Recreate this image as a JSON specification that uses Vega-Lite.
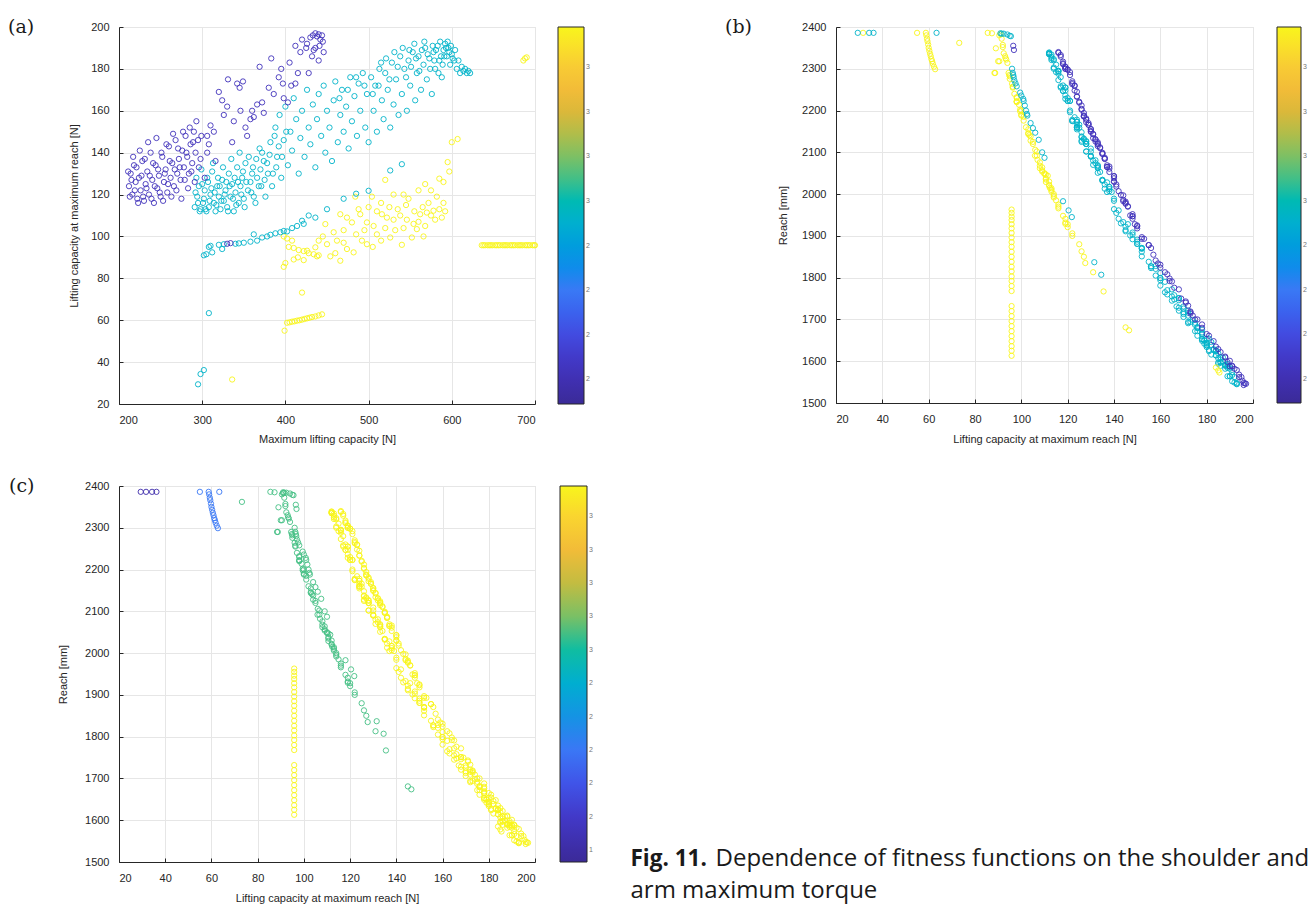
{
 "$schema": "https://vega.github.io/schema/vega-lite/v6.json",
 "background": "white",
 "padding": {"left": 7, "top": 17, "right": 0, "bottom": 0},
 "datasets": {
  "groups": [
   {"g":"C","f1":2.93,"f2":3.98},{"g":"P","f1":2.24,"f2":3.98},{"g":"Pg","f1":2.24,"f2":3.08},
   {"g":"Cg","f1":2.93,"f2":3.08},{"g":"Cb","f1":2.93,"f2":2.405},{"g":"Cp","f1":2.93,"f2":1.84},
   {"g":"Yg","f1":3.78,"f2":3.08},{"g":"Yy","f1":3.78,"f2":3.98},{"g":"Yb","f1":3.78,"f2":2.405},{"g":"Yp","f1":3.78,"f2":1.84}
  ],
  "designs": [
{"max":292,"lift":121,"reach":2196,"g":"C"},{"max":295,"lift":116,"reach":2293,"g":"C"},{"max":298,"lift":113,"reach":2325,"g":"C"},{"max":300,"lift":125,"reach":2166,"g":"C"},{"max":302,"lift":118,"reach":2247,"g":"C"},{"max":305,"lift":112,"reach":2338,"g":"C"},{"max":306,"lift":128,"reach":2127,"g":"C"},{"max":308,"lift":114,"reach":2300,"g":"C"},{"max":310,"lift":120,"reach":2230,"g":"C"},{"max":312,"lift":131,"reach":2080,"g":"C"},
{"max":314,"lift":116,"reach":2273,"g":"C"},{"max":316,"lift":112,"reach":2335,"g":"C"},{"max":318,"lift":124,"reach":2159,"g":"C"},{"max":320,"lift":119,"reach":2255,"g":"C"},{"max":322,"lift":113,"reach":2321,"g":"C"},{"max":324,"lift":127,"reach":2131,"g":"C"},{"max":326,"lift":117,"reach":2280,"g":"C"},{"max":328,"lift":122,"reach":2175,"g":"C"},{"max":330,"lift":114,"reach":2320,"g":"C"},{"max":332,"lift":130,"reach":2092,"g":"C"},
{"max":334,"lift":119,"reach":2228,"g":"C"},{"max":336,"lift":125,"reach":2159,"g":"C"},{"max":338,"lift":112,"reach":2339,"g":"C"},{"max":340,"lift":121,"reach":2223,"g":"C"},{"max":342,"lift":133,"reach":2051,"g":"C"},{"max":344,"lift":116,"reach":2288,"g":"C"},{"max":346,"lift":124,"reach":2173,"g":"C"},{"max":348,"lift":128,"reach":2102,"g":"C"},{"max":350,"lift":118,"reach":2260,"g":"C"},{"max":352,"lift":135,"reach":2034,"g":"C"},
{"max":355,"lift":122,"reach":2178,"g":"C"},{"max":358,"lift":126,"reach":2148,"g":"C"},{"max":360,"lift":130,"reach":2090,"g":"C"},{"max":362,"lift":119,"reach":2255,"g":"C"},{"max":365,"lift":137,"reach":2005,"g":"C"},{"max":368,"lift":124,"reach":2166,"g":"C"},{"max":370,"lift":132,"reach":2081,"g":"C"},{"max":372,"lift":140,"reach":1964,"g":"C"},{"max":375,"lift":127,"reach":2133,"g":"C"},{"max":378,"lift":135,"reach":2034,"g":"C"},
{"max":382,"lift":145,"reach":1914,"g":"C"},{"max":385,"lift":130,"reach":2102,"g":"C"},{"max":388,"lift":152,"reach":1862,"g":"C"},{"max":390,"lift":138,"reach":2017,"g":"C"},{"max":393,"lift":158,"reach":1805,"g":"C"},{"max":395,"lift":128,"reach":2120,"g":"C"},{"max":398,"lift":146,"reach":1928,"g":"C"},{"max":400,"lift":162,"reach":1765,"g":"C"},{"max":403,"lift":134,"reach":2053,"g":"C"},{"max":406,"lift":150,"reach":1881,"g":"C"},
{"max":408,"lift":141,"reach":1955,"g":"C"},{"max":410,"lift":166,"reach":1758,"g":"C"},{"max":413,"lift":156,"reach":1827,"g":"C"},{"max":416,"lift":130,"reach":2109,"g":"C"},{"max":418,"lift":147,"reach":1901,"g":"C"},{"max":420,"lift":160,"reach":1799,"g":"C"},{"max":423,"lift":138,"reach":2012,"g":"C"},{"max":426,"lift":170,"reach":1706,"g":"C"},{"max":428,"lift":152,"reach":1871,"g":"C"},{"max":430,"lift":144,"reach":1933,"g":"C"},
{"max":433,"lift":163,"reach":1760,"g":"C"},{"max":436,"lift":133,"reach":2067,"g":"C"},{"max":438,"lift":156,"reach":1827,"g":"C"},{"max":440,"lift":168,"reach":1751,"g":"C"},{"max":443,"lift":148,"reach":1892,"g":"C"},{"max":446,"lift":172,"reach":1709,"g":"C"},{"max":448,"lift":140,"reach":1989,"g":"C"},{"max":450,"lift":160,"reach":1781,"g":"C"},{"max":453,"lift":152,"reach":1871,"g":"C"},{"max":456,"lift":136,"reach":2023,"g":"C"},
{"max":458,"lift":165,"reach":1745,"g":"C"},{"max":460,"lift":174,"reach":1699,"g":"C"},{"max":463,"lift":145,"reach":1922,"g":"C"},{"max":466,"lift":158,"reach":1828,"g":"C"},{"max":468,"lift":170,"reach":1713,"g":"C"},{"max":470,"lift":150,"reach":1886,"g":"C"},{"max":473,"lift":162,"reach":1790,"g":"C"},{"max":476,"lift":142,"reach":1941,"g":"C"},{"max":478,"lift":176,"reach":1681,"g":"C"},{"max":480,"lift":155,"reach":1838,"g":"C"},
{"max":483,"lift":167,"reach":1731,"g":"C"},{"max":486,"lift":148,"reach":1908,"g":"C"},{"max":488,"lift":173,"reach":1694,"g":"C"},{"max":490,"lift":160,"reach":1811,"g":"C"},{"max":493,"lift":178,"reach":1653,"g":"C"},{"max":496,"lift":152,"reach":1869,"g":"C"},{"max":498,"lift":168,"reach":1746,"g":"C"},{"max":500,"lift":145,"reach":1911,"g":"C"},
{"max":503,"lift":176,"reach":1681,"g":"C"},{"max":506,"lift":160,"reach":1794,"g":"C"},{"max":508,"lift":172,"reach":1694,"g":"C"},{"max":510,"lift":150,"reach":1891,"g":"C"},{"max":513,"lift":180,"reach":1642,"g":"C"},{"max":516,"lift":165,"reach":1772,"g":"C"},{"max":518,"lift":156,"reach":1823,"g":"C"},{"max":520,"lift":178,"reach":1664,"g":"C"},{"max":523,"lift":170,"reach":1731,"g":"C"},{"max":526,"lift":152,"reach":1851,"g":"C"},
{"max":528,"lift":183,"reach":1629,"g":"C"},{"max":530,"lift":163,"reach":1770,"g":"C"},{"max":533,"lift":175,"reach":1672,"g":"C"},{"max":536,"lift":158,"reach":1821,"g":"C"},{"max":538,"lift":186,"reach":1597,"g":"C"},{"max":540,"lift":168,"reach":1751,"g":"C"},{"max":543,"lift":180,"reach":1638,"g":"C"},{"max":546,"lift":160,"reach":1799,"g":"C"},{"max":548,"lift":184,"reach":1626,"g":"C"},{"max":550,"lift":172,"reach":1691,"g":"C"},
{"max":553,"lift":188,"reach":1591,"g":"C"},{"max":556,"lift":165,"reach":1755,"g":"C"},{"max":558,"lift":178,"reach":1649,"g":"C"},{"max":560,"lift":186,"reach":1609,"g":"C"},{"max":563,"lift":170,"reach":1717,"g":"C"},{"max":566,"lift":182,"reach":1646,"g":"C"},{"max":568,"lift":190,"reach":1564,"g":"C"},{"max":570,"lift":175,"reach":1687,"g":"C"},{"max":573,"lift":185,"reach":1619,"g":"C"},{"max":576,"lift":168,"reach":1721,"g":"C"},
{"max":578,"lift":188,"reach":1591,"g":"C"},{"max":580,"lift":180,"reach":1644,"g":"C"},{"max":583,"lift":191,"reach":1552,"g":"C"},{"max":585,"lift":184,"reach":1624,"g":"C"},{"max":588,"lift":176,"reach":1672,"g":"C"},{"max":590,"lift":189,"reach":1594,"g":"C"},{"max":592,"lift":192,"reach":1549,"g":"C"},{"max":594,"lift":186,"reach":1604,"g":"C"},{"max":596,"lift":190,"reach":1582,"g":"C"},{"max":598,"lift":182,"reach":1616,"g":"C"},
{"max":600,"lift":187,"reach":1599,"g":"C"},{"max":603,"lift":184,"reach":1614,"g":"C"},{"max":606,"lift":180,"reach":1634,"g":"C"},{"max":610,"lift":178,"reach":1669,"g":"C"},{"max":614,"lift":179,"reach":1650,"g":"C"},{"max":618,"lift":178,"reach":1676,"g":"C"},{"max":622,"lift":178,"reach":1653,"g":"C"},{"max":450,"lift":113,"reach":2329,"g":"C"},
{"max":291,"lift":114,"reach":2303,"g":"C"},{"max":293,"lift":128,"reach":2125,"g":"C"},{"max":294,"lift":119,"reach":2236,"g":"C"},{"max":296,"lift":124,"reach":2178,"g":"C"},{"max":297,"lift":112,"reach":2335,"g":"C"},{"max":299,"lift":132,"reach":2074,"g":"C"},{"max":301,"lift":116,"reach":2295,"g":"C"},{"max":303,"lift":122,"reach":2175,"g":"C"},{"max":304,"lift":113,"reach":2334,"g":"C"},{"max":307,"lift":126,"reach":2138,"g":"C"},
{"max":309,"lift":117,"reach":2258,"g":"C"},{"max":311,"lift":123,"reach":2184,"g":"C"},{"max":313,"lift":135,"reach":2032,"g":"C"},{"max":315,"lift":121,"reach":2223,"g":"C"},{"max":317,"lift":115,"reach":2292,"g":"C"},{"max":319,"lift":128,"reach":2120,"g":"C"},{"max":321,"lift":124,"reach":2173,"g":"C"},{"max":323,"lift":117,"reach":2255,"g":"C"},{"max":325,"lift":133,"reach":2064,"g":"C"},{"max":327,"lift":120,"reach":2223,"g":"C"},
{"max":329,"lift":126,"reach":2128,"g":"C"},{"max":331,"lift":112,"reach":2336,"g":"C"},{"max":333,"lift":124,"reach":2159,"g":"C"},{"max":335,"lift":137,"reach":2028,"g":"C"},{"max":337,"lift":118,"reach":2247,"g":"C"},{"max":339,"lift":128,"reach":2120,"g":"C"},{"max":341,"lift":115,"reach":2310,"g":"C"},{"max":343,"lift":126,"reach":2125,"g":"C"},{"max":345,"lift":140,"reach":1984,"g":"C"},{"max":347,"lift":120,"reach":2223,"g":"C"},
{"max":349,"lift":131,"reach":2070,"g":"C"},{"max":351,"lift":114,"reach":2323,"g":"C"},{"max":353,"lift":126,"reach":2136,"g":"C"},{"max":356,"lift":138,"reach":2017,"g":"C"},{"max":359,"lift":121,"reach":2200,"g":"C"},{"max":361,"lift":133,"reach":2062,"g":"C"},{"max":364,"lift":116,"reach":2295,"g":"C"},{"max":366,"lift":128,"reach":2102,"g":"C"},{"max":369,"lift":142,"reach":1961,"g":"C"},{"max":371,"lift":124,"reach":2161,"g":"C"},
{"max":374,"lift":136,"reach":2013,"g":"C"},{"max":376,"lift":119,"reach":2248,"g":"C"},{"max":379,"lift":130,"reach":2090,"g":"C"},{"max":381,"lift":139,"reach":2005,"g":"C"},{"max":384,"lift":124,"reach":2155,"g":"C"},{"max":387,"lift":148,"reach":1903,"g":"C"},{"max":389,"lift":133,"reach":2069,"g":"C"},{"max":392,"lift":143,"reach":1930,"g":"C"},{"max":396,"lift":138,"reach":2007,"g":"C"},{"max":401,"lift":150,"reach":1881,"g":"C"},
{"max":521,"lift":185,"reach":1597,"g":"C"},{"max":525,"lift":175,"reach":1692,"g":"C"},{"max":531,"lift":188,"reach":1582,"g":"C"},{"max":535,"lift":181,"reach":1654,"g":"C"},{"max":541,"lift":190,"reach":1564,"g":"C"},{"max":545,"lift":176,"reach":1679,"g":"C"},{"max":549,"lift":189,"reach":1589,"g":"C"},{"max":551,"lift":181,"reach":1624,"g":"C"},{"max":555,"lift":192,"reach":1562,"g":"C"},{"max":557,"lift":185,"reach":1607,"g":"C"},
{"max":561,"lift":179,"reach":1642,"g":"C"},{"max":564,"lift":189,"reach":1587,"g":"C"},{"max":567,"lift":193,"reach":1546,"g":"C"},{"max":571,"lift":187,"reach":1609,"g":"C"},{"max":574,"lift":180,"reach":1638,"g":"C"},{"max":577,"lift":191,"reach":1567,"g":"C"},{"max":579,"lift":184,"reach":1626,"g":"C"},{"max":581,"lift":189,"reach":1564,"g":"C"},{"max":584,"lift":178,"reach":1666,"g":"C"},{"max":586,"lift":193,"reach":1548,"g":"C"},
{"max":587,"lift":186,"reach":1589,"g":"C"},{"max":589,"lift":182,"reach":1639,"g":"C"},{"max":591,"lift":186,"reach":1597,"g":"C"},{"max":593,"lift":190,"reach":1587,"g":"C"},{"max":595,"lift":193,"reach":1545,"g":"C"},{"max":597,"lift":188,"reach":1589,"g":"C"},{"max":599,"lift":191,"reach":1574,"g":"C"},{"max":601,"lift":185,"reach":1594,"g":"C"},{"max":604,"lift":189,"reach":1584,"g":"C"},{"max":608,"lift":184,"reach":1614,"g":"C"},
{"max":612,"lift":181,"reach":1627,"g":"C"},{"max":616,"lift":180,"reach":1654,"g":"C"},{"max":620,"lift":179,"reach":1650,"g":"C"},{"max":512,"lift":172,"reach":1721,"g":"C"},{"max":505,"lift":168,"reach":1728,"g":"C"},{"max":515,"lift":183,"reach":1627,"g":"C"},{"max":495,"lift":172,"reach":1716,"g":"C"},{"max":485,"lift":176,"reach":1661,"g":"C"},{"max":475,"lift":170,"reach":1726,"g":"C"},{"max":465,"lift":166,"reach":1748,"g":"C"},
{"max":212,"lift":124,"reach":2234,"g":"P"},{"max":214,"lift":130,"reach":2155,"g":"P"},{"max":216,"lift":120,"reach":2298,"g":"P"},{"max":218,"lift":134,"reach":2112,"g":"P"},{"max":220,"lift":126,"reach":2204,"g":"P"},{"max":222,"lift":118,"reach":2317,"g":"P"},{"max":224,"lift":128,"reach":2181,"g":"P"},{"max":226,"lift":122,"reach":2263,"g":"P"},{"max":228,"lift":136,"reach":2085,"g":"P"},{"max":230,"lift":117,"reach":2329,"g":"P"},
{"max":232,"lift":125,"reach":2219,"g":"P"},{"max":234,"lift":131,"reach":2144,"g":"P"},{"max":236,"lift":120,"reach":2298,"g":"P"},{"max":238,"lift":140,"reach":2043,"g":"P"},{"max":240,"lift":127,"reach":2186,"g":"P"},{"max":242,"lift":116,"reach":2338,"g":"P"},{"max":244,"lift":134,"reach":2110,"g":"P"},{"max":246,"lift":123,"reach":2248,"g":"P"},{"max":248,"lift":129,"reach":2166,"g":"P"},{"max":250,"lift":119,"reach":2300,"g":"P"},
{"max":252,"lift":138,"reach":2053,"g":"P"},{"max":254,"lift":126,"reach":2212,"g":"P"},{"max":256,"lift":132,"reach":2126,"g":"P"},{"max":258,"lift":121,"reach":2292,"g":"P"},{"max":260,"lift":143,"reach":1998,"g":"P"},{"max":262,"lift":128,"reach":2178,"g":"P"},{"max":264,"lift":135,"reach":2099,"g":"P"},{"max":266,"lift":124,"reach":2233,"g":"P"},{"max":268,"lift":146,"reach":1970,"g":"P"},{"max":270,"lift":130,"reach":2151,"g":"P"},
{"max":272,"lift":137,"reach":2065,"g":"P"},{"max":274,"lift":127,"reach":2194,"g":"P"},{"max":276,"lift":141,"reach":2023,"g":"P"},{"max":278,"lift":133,"reach":2124,"g":"P"},{"max":280,"lift":148,"reach":1941,"g":"P"},{"max":282,"lift":138,"reach":2061,"g":"P"},{"max":284,"lift":130,"reach":2156,"g":"P"},{"max":286,"lift":144,"reach":1983,"g":"P"},{"max":288,"lift":135,"reach":2097,"g":"P"},{"max":290,"lift":150,"reach":1918,"g":"P"},
{"max":292,"lift":140,"reach":2030,"g":"P"},{"max":295,"lift":146,"reach":1971,"g":"P"},{"max":298,"lift":137,"reach":2069,"g":"P"},{"max":306,"lift":140,"reach":2043,"g":"P"},{"max":308,"lift":144,"reach":1986,"g":"P"},{"max":306,"lift":148,"reach":1947,"g":"P"},{"max":314,"lift":150,"reach":1923,"g":"P"},{"max":320,"lift":169,"reach":1750,"g":"P"},{"max":324,"lift":165,"reach":1791,"g":"P"},{"max":330,"lift":162,"reach":1813,"g":"P"},
{"max":331,"lift":175,"reach":1700,"g":"P"},{"max":338,"lift":155,"reach":1878,"g":"P"},{"max":342,"lift":173,"reach":1719,"g":"P"},{"max":345,"lift":171,"reach":1743,"g":"P"},{"max":349,"lift":174,"reach":1709,"g":"P"},{"max":354,"lift":148,"reach":1947,"g":"P"},{"max":358,"lift":156,"reach":1871,"g":"P"},{"max":360,"lift":160,"reach":1824,"g":"P"},{"max":366,"lift":163,"reach":1808,"g":"P"},{"max":369,"lift":181,"reach":1661,"g":"P"},
{"max":374,"lift":159,"reach":1834,"g":"P"},{"max":380,"lift":171,"reach":1740,"g":"P"},{"max":383,"lift":185,"reach":1629,"g":"P"},{"max":386,"lift":168,"reach":1772,"g":"P"},{"max":397,"lift":173,"reach":1717,"g":"P"},{"max":403,"lift":164,"reach":1798,"g":"P"},{"max":407,"lift":172,"reach":1733,"g":"P"},{"max":412,"lift":173,"reach":1714,"g":"P"},{"max":412,"lift":191,"reach":1589,"g":"P"},{"max":418,"lift":188,"reach":1609,"g":"P"},
{"max":425,"lift":190,"reach":1588,"g":"P"},{"max":428,"lift":178,"reach":1688,"g":"P"},{"max":432,"lift":186,"reach":1622,"g":"P"},{"max":436,"lift":190,"reach":1601,"g":"P"},{"max":440,"lift":184,"reach":1635,"g":"P"},{"max":446,"lift":188,"reach":1611,"g":"P"},{"max":430,"lift":195,"reach":1562,"g":"P"},{"max":433,"lift":196,"reach":1543,"g":"P"},{"max":436,"lift":197,"reach":1546,"g":"P"},{"max":438,"lift":195.5,"reach":1553,"g":"P"},
{"max":440,"lift":196.5,"reach":1547,"g":"P"},{"max":442,"lift":194,"reach":1568,"g":"P"},{"max":444,"lift":196,"reach":1548,"g":"P"},{"max":445,"lift":193,"reach":1579,"g":"P"},{"max":395,"lift":180,"reach":1665,"g":"P"},{"max":405,"lift":183,"reach":1648,"g":"P"},{"max":415,"lift":178,"reach":1680,"g":"P"},{"max":420,"lift":194,"reach":1562,"g":"P"},{"max":426,"lift":192,"reach":1582,"g":"P"},{"max":434,"lift":189,"reach":1598,"g":"P"},
{"max":441,"lift":191,"reach":1588,"g":"P"},{"max":398,"lift":166,"reach":1776,"g":"P"},{"max":392,"lift":176,"reach":1700,"g":"P"},{"max":352,"lift":152,"reach":1897,"g":"P"},{"max":362,"lift":157,"reach":1855,"g":"P"},{"max":372,"lift":164,"reach":1792,"g":"P"},
{"max":211,"lift":131,"reach":2134,"g":"P"},{"max":213,"lift":119,"reach":2304,"g":"P"},{"max":215,"lift":127,"reach":2188,"g":"P"},{"max":217,"lift":138,"reach":2066,"g":"P"},{"max":219,"lift":122,"reach":2266,"g":"P"},{"max":221,"lift":133,"reach":2119,"g":"P"},{"max":223,"lift":116,"reach":2340,"g":"P"},{"max":225,"lift":141,"reach":2018,"g":"P"},{"max":227,"lift":129,"reach":2166,"g":"P"},{"max":229,"lift":119,"reach":2300,"g":"P"},
{"max":231,"lift":137,"reach":2065,"g":"P"},{"max":233,"lift":123,"reach":2259,"g":"P"},{"max":235,"lift":145,"reach":1977,"g":"P"},{"max":237,"lift":129,"reach":2170,"g":"P"},{"max":239,"lift":118,"reach":2311,"g":"P"},{"max":241,"lift":135,"reach":2096,"g":"P"},{"max":243,"lift":124,"reach":2245,"g":"P"},{"max":245,"lift":147,"reach":1949,"g":"P"},{"max":247,"lift":132,"reach":2131,"g":"P"},{"max":249,"lift":121,"reach":2285,"g":"P"},
{"max":251,"lift":140,"reach":2030,"g":"P"},{"max":253,"lift":117,"reach":2333,"g":"P"},{"max":255,"lift":130,"reach":2149,"g":"P"},{"max":257,"lift":144,"reach":1997,"g":"P"},{"max":259,"lift":125,"reach":2221,"g":"P"},{"max":261,"lift":136,"reach":2084,"g":"P"},{"max":263,"lift":119,"reach":2305,"g":"P"},{"max":265,"lift":149,"reach":1928,"g":"P"},{"max":267,"lift":132,"reach":2131,"g":"P"},{"max":269,"lift":122,"reach":2270,"g":"P"},
{"max":271,"lift":142,"reach":2007,"g":"P"},{"max":273,"lift":133,"reach":2121,"g":"P"},{"max":275,"lift":118,"reach":2313,"g":"P"},{"max":277,"lift":150,"reach":1925,"g":"P"},{"max":279,"lift":127,"reach":2186,"g":"P"},{"max":281,"lift":140,"reach":2038,"g":"P"},{"max":283,"lift":123,"reach":2260,"g":"P"},{"max":285,"lift":152,"reach":1893,"g":"P"},{"max":287,"lift":131,"reach":2143,"g":"P"},{"max":289,"lift":145,"reach":1979,"g":"P"},
{"max":291,"lift":126,"reach":2202,"g":"P"},{"max":293,"lift":155,"reach":1878,"g":"P"},{"max":296,"lift":133,"reach":2115,"g":"P"},{"max":299,"lift":148,"reach":1952,"g":"P"},{"max":303,"lift":128,"reach":2172,"g":"P"},{"max":310,"lift":153,"reach":1893,"g":"P"},{"max":316,"lift":136,"reach":2087,"g":"P"},{"max":326,"lift":158,"reach":1841,"g":"P"},{"max":336,"lift":145,"reach":1982,"g":"P"},{"max":346,"lift":160,"reach":1831,"g":"P"},
{"max":448,"lift":105.9,"reach":2092,"g":"Yg"},{"max":466,"lift":110.6,"reach":2047,"g":"Yg"},{"max":474,"lift":109,"reach":2057,"g":"Yg"},{"max":480,"lift":106.7,"reach":2102,"g":"Yg"},{"max":490,"lift":110.6,"reach":2035,"g":"Yg"},{"max":498,"lift":106.7,"reach":2092,"g":"Yg"},{"max":506,"lift":105,"reach":2125,"g":"Yg"},{"max":516,"lift":110.6,"reach":2029,"g":"Yg"},{"max":522,"lift":109,"reach":2064,"g":"Yg"},{"max":538,"lift":110,"reach":2048,"g":"Yg"},
{"max":546,"lift":108,"reach":2062,"g":"Yg"},{"max":554,"lift":106,"reach":2106,"g":"Yg"},{"max":562,"lift":110.6,"reach":2038,"g":"Yg"},{"max":570,"lift":111.4,"reach":2044,"g":"Yg"},{"max":578,"lift":112.3,"reach":2015,"g":"Yg"},{"max":450,"lift":96.3,"reach":2257,"g":"Yg"},{"max":454,"lift":90.5,"reach":2318,"g":"Yg"},{"max":466,"lift":88.4,"reach":2290,"g":"Yg"},{"max":474,"lift":94,"reach":2314,"g":"Yg"},{"max":482,"lift":92.4,"reach":2337,"g":"Yg"},
{"max":462,"lift":98,"reach":2230,"g":"Yg"},{"max":438,"lift":90.5,"reach":2380,"g":"Yg"},{"max":426,"lift":93.2,"reach":2325,"g":"Yg"},{"max":436,"lift":94.8,"reach":2285,"g":"Yg"},{"max":498,"lift":96.3,"reach":2255,"g":"Yg"},{"max":526,"lift":99.5,"reach":2202,"g":"Yg"},{"max":552,"lift":99.5,"reach":2198,"g":"Yg"},{"max":558,"lift":103.5,"reach":2141,"g":"Yg"},{"max":398,"lift":100,"reach":2188,"g":"Yg"},{"max":402,"lift":99,"reach":2214,"g":"Yg"},
{"max":408,"lift":98,"reach":2222,"g":"Yg"},{"max":404,"lift":95,"reach":2282,"g":"Yg"},{"max":410,"lift":94.5,"reach":2290,"g":"Yg"},{"max":416,"lift":93.5,"reach":2322,"g":"Yg"},{"max":422,"lift":93,"reach":2330,"g":"Yg"},{"max":428,"lift":92,"reach":2357,"g":"Yg"},{"max":434,"lift":91.5,"reach":2372,"g":"Yg"},{"max":440,"lift":91,"reach":2383,"g":"Yg"},{"max":398,"lift":85.5,"reach":2386,"g":"Yg"},{"max":400,"lift":87.3,"reach":2385,"g":"Yg"},
{"max":422,"lift":88.7,"reach":2290,"g":"Yg"},{"max":410,"lift":89,"reach":2349,"g":"Yg"},{"max":415,"lift":90,"reach":2318,"g":"Yg"},{"max":420,"lift":73.2,"reach":2362,"g":"Yg"},{"max":600,"lift":145,"reach":1681,"g":"Yg"},{"max":607,"lift":146.5,"reach":1674,"g":"Yg"},{"max":595,"lift":135.5,"reach":1767,"g":"Yg"},{"max":597,"lift":131,"reach":1813,"g":"Yg"},{"max":585,"lift":127.6,"reach":1835,"g":"Yg"},{"max":590,"lift":126,"reach":1863,"g":"Yg"},
{"max":520,"lift":127,"reach":1850,"g":"Yg"},{"max":568,"lift":125,"reach":1880,"g":"Yg"},{"max":484,"lift":119,"reach":1941,"g":"Yg"},{"max":504,"lift":119,"reach":1932,"g":"Yg"},{"max":575,"lift":122,"reach":1906,"g":"Yg"},{"max":582,"lift":119,"reach":1929,"g":"Yg"},{"max":590,"lift":116,"reach":1966,"g":"Yg"},{"max":515,"lift":116,"reach":1975,"g":"Yg"},{"max":525,"lift":114,"reach":1996,"g":"Yg"},{"max":535,"lift":113,"reach":2006,"g":"Yg"},
{"max":545,"lift":115,"reach":1985,"g":"Yg"},{"max":565,"lift":114,"reach":1992,"g":"Yg"},{"max":585,"lift":113,"reach":2014,"g":"Yg"},{"max":500,"lift":114,"reach":2000,"g":"Yg"},{"max":488,"lift":113,"reach":2010,"g":"Yg"},{"max":572,"lift":116,"reach":1970,"g":"Yg"},{"max":548,"lift":118,"reach":1948,"g":"Yg"},{"max":530,"lift":120,"reach":1921,"g":"Yg"},{"max":560,"lift":122,"reach":1900,"g":"Yg"},{"max":542,"lift":120,"reach":1928,"g":"Yg"},
{"max":555,"lift":112,"reach":2022,"g":"Yg"},{"max":575,"lift":110,"reach":2050,"g":"Yg"},{"max":530,"lift":108,"reach":2068,"g":"Yg"},{"max":510,"lift":112,"reach":2030,"g":"Yg"},{"max":470,"lift":103,"reach":2146,"g":"Yg"},{"max":485,"lift":101,"reach":2185,"g":"Yg"},{"max":495,"lift":103,"reach":2155,"g":"Yg"},{"max":510,"lift":101,"reach":2176,"g":"Yg"},{"max":520,"lift":104,"reach":2128,"g":"Yg"},{"max":532,"lift":103,"reach":2144,"g":"Yg"},
{"max":542,"lift":104,"reach":2138,"g":"Yg"},{"max":560,"lift":107,"reach":2082,"g":"Yg"},{"max":568,"lift":105,"reach":2120,"g":"Yg"},{"max":580,"lift":108,"reach":2076,"g":"Yg"},{"max":588,"lift":109,"reach":2054,"g":"Yg"},{"max":592,"lift":112,"reach":2020,"g":"Yg"},{"max":458,"lift":102,"reach":2160,"g":"Yg"},{"max":445,"lift":100,"reach":2200,"g":"Yg"},{"max":440,"lift":98,"reach":2220,"g":"Yg"},{"max":460,"lift":92,"reach":2352,"g":"Yg"},
{"max":470,"lift":97,"reach":2240,"g":"Yg"},{"max":492,"lift":98,"reach":2232,"g":"Yg"},{"max":505,"lift":95,"reach":2276,"g":"Yg"},{"max":515,"lift":98,"reach":2222,"g":"Yg"},{"max":540,"lift":96,"reach":2264,"g":"Yg"},{"max":566,"lift":100,"reach":2190,"g":"Yg"},
{"max":636,"lift":95.8,"reach":1963,"g":"Yy"},{"max":638,"lift":95.8,"reach":1955,"g":"Yy"},{"max":640,"lift":95.8,"reach":1946,"g":"Yy"},{"max":643,"lift":95.8,"reach":1938,"g":"Yy"},{"max":645,"lift":95.8,"reach":1928,"g":"Yy"},{"max":647,"lift":95.8,"reach":1918,"g":"Yy"},{"max":649,"lift":95.8,"reach":1907,"g":"Yy"},{"max":652,"lift":95.8,"reach":1896,"g":"Yy"},{"max":654,"lift":95.8,"reach":1885,"g":"Yy"},{"max":656,"lift":95.8,"reach":1874,"g":"Yy"},
{"max":658,"lift":95.8,"reach":1862,"g":"Yy"},{"max":661,"lift":95.8,"reach":1850,"g":"Yy"},{"max":663,"lift":95.8,"reach":1838,"g":"Yy"},{"max":665,"lift":95.8,"reach":1826,"g":"Yy"},{"max":667,"lift":95.8,"reach":1815,"g":"Yy"},{"max":670,"lift":95.8,"reach":1803,"g":"Yy"},{"max":672,"lift":95.8,"reach":1792,"g":"Yy"},{"max":674,"lift":95.8,"reach":1780,"g":"Yy"},{"max":676,"lift":95.8,"reach":1768,"g":"Yy"},{"max":679,"lift":95.8,"reach":1732,"g":"Yy"},
{"max":681,"lift":95.8,"reach":1720,"g":"Yy"},{"max":683,"lift":95.8,"reach":1708,"g":"Yy"},{"max":685,"lift":95.8,"reach":1696,"g":"Yy"},{"max":688,"lift":95.8,"reach":1684,"g":"Yy"},{"max":690,"lift":95.8,"reach":1672,"g":"Yy"},{"max":692,"lift":95.8,"reach":1660,"g":"Yy"},{"max":694,"lift":95.8,"reach":1648,"g":"Yy"},{"max":697,"lift":95.8,"reach":1636,"g":"Yy"},{"max":699,"lift":95.8,"reach":1625,"g":"Yy"},{"max":700,"lift":95.8,"reach":1613,"g":"Yy"},
{"max":686,"lift":184,"reach":1585,"g":"Yy"},{"max":688,"lift":185,"reach":1578,"g":"Yy"},{"max":690,"lift":185.5,"reach":1573,"g":"Yy"},
{"max":399,"lift":55,"reach":2386,"g":"Yb"},{"max":402,"lift":58.8,"reach":2386,"g":"Yb"},{"max":405,"lift":59,"reach":2380,"g":"Yb"},{"max":408,"lift":59.3,"reach":2372,"g":"Yb"},{"max":411,"lift":59.5,"reach":2366,"g":"Yb"},{"max":414,"lift":59.8,"reach":2358,"g":"Yb"},{"max":417,"lift":60,"reach":2350,"g":"Yb"},{"max":420,"lift":60.3,"reach":2343,"g":"Yb"},{"max":423,"lift":60.6,"reach":2336,"g":"Yb"},{"max":426,"lift":60.9,"reach":2330,"g":"Yb"},
{"max":429,"lift":61.2,"reach":2323,"g":"Yb"},{"max":432,"lift":61.5,"reach":2318,"g":"Yb"},{"max":436,"lift":61.8,"reach":2312,"g":"Yb"},{"max":440,"lift":62.3,"reach":2305,"g":"Yb"},{"max":444,"lift":62.8,"reach":2299,"g":"Yb"},
{"max":336,"lift":31.7,"reach":2386,"g":"Yp"},
{"max":302,"lift":91,"reach":2385,"g":"Cg"},{"max":305,"lift":91.5,"reach":2384,"g":"Cg"},{"max":308,"lift":95,"reach":2379,"g":"Cg"},{"max":312,"lift":92.4,"reach":2384,"g":"Cg"},{"max":310,"lift":95.5,"reach":2378,"g":"Cg"},{"max":324,"lift":94,"reach":2382,"g":"Cg"},{"max":320,"lift":96,"reach":2300,"g":"Cg"},{"max":326,"lift":96.3,"reach":2290,"g":"Cg"},{"max":340,"lift":96.5,"reach":2285,"g":"Cg"},{"max":344,"lift":96.7,"reach":2280,"g":"Cg"},
{"max":350,"lift":97,"reach":2272,"g":"Cg"},{"max":358,"lift":97.5,"reach":2265,"g":"Cg"},{"max":362,"lift":101,"reach":2223,"g":"Cg"},{"max":366,"lift":98,"reach":2258,"g":"Cg"},{"max":372,"lift":99.5,"reach":2243,"g":"Cg"},{"max":378,"lift":100,"reach":2236,"g":"Cg"},{"max":382,"lift":100.8,"reach":2228,"g":"Cg"},{"max":388,"lift":101.5,"reach":2212,"g":"Cg"},{"max":394,"lift":102,"reach":2200,"g":"Cg"},{"max":398,"lift":102.6,"reach":2188,"g":"Cg"},
{"max":402,"lift":102.4,"reach":2192,"g":"Cg"},{"max":408,"lift":104,"reach":2170,"g":"Cg"},{"max":414,"lift":105,"reach":2158,"g":"Cg"},{"max":420,"lift":107.5,"reach":2130,"g":"Cg"},{"max":422,"lift":106,"reach":2147,"g":"Cg"},{"max":428,"lift":110,"reach":2087,"g":"Cg"},{"max":436,"lift":109,"reach":2100,"g":"Cg"},{"max":470,"lift":118,"reach":1983,"g":"Cg"},{"max":485,"lift":120.4,"reach":1961,"g":"Cg"},{"max":500,"lift":121.8,"reach":1945,"g":"Cg"},
{"max":526,"lift":131.5,"reach":1837,"g":"Cg"},{"max":540,"lift":134.5,"reach":1807,"g":"Cg"},
{"max":308,"lift":63.4,"reach":2386,"g":"Cb"},
{"max":295,"lift":29.4,"reach":2386,"g":"Cp"},{"max":298,"lift":34.3,"reach":2386,"g":"Cp"},{"max":302,"lift":36.2,"reach":2386,"g":"Cp"},
{"max":330,"lift":96.5,"reach":2355,"g":"Pg"},{"max":334,"lift":96.8,"reach":2345,"g":"Pg"}
  ]
 },
 "vconcat": [
  {
   "hconcat": [
    {
     "width": 416, "height": 377,
     "title": {"text": "(a)", "anchor": "start", "frame": "group", "dx": -111, "dy": 20},
     "data": {"name": "designs"},
     "transform": [{"lookup": "g", "from": {"data": {"name": "groups"}, "key": "g", "fields": ["f1", "f2"]}}],
     "mark": {"type": "point", "shape": "circle", "filled": false, "size": 28, "strokeWidth": 0.9, "opacity": 1},
     "encoding": {
      "x": {"field": "max", "type": "quantitative", "scale": {"domain": [200, 700], "nice": false, "zero": false},
            "axis": {"values": [200, 300, 400, 500, 600, 700], "title": "Maximum lifting capacity [N]", "titlePadding": 8}},
      "y": {"field": "lift", "type": "quantitative", "scale": {"domain": [20, 200], "nice": false, "zero": false},
            "axis": {"values": [20, 40, 60, 80, 100, 120, 140, 160, 180, 200], "title": "Lifting capacity at maximum reach [N]", "titlePadding": 11}},
      "color": {"field": "f1", "type": "quantitative",
                "scale": {"domain": [2.09, 2.259, 2.428, 2.597, 2.766, 2.935, 3.104, 3.273, 3.442, 3.611, 3.78],
                          "range": ["#3b2a98", "#4233c0", "#4150e6", "#3a78f5", "#1e96e0", "#0ab4c8", "#45bf85", "#a5be50", "#eeb43a", "#f9cd34", "#f8f51c"]},
                "legend": {"values": [2.2, 2.4, 2.6, 2.8, 3.0, 3.2, 3.4, 3.6], "labelExpr": "slice(datum.label, 0, 1)", "gradientLength": 377, "gradientThickness": 26, "offset": 23}}
     }
    },
    {
     "width": 417, "height": 376,
     "title": {"text": "(b)", "anchor": "start", "frame": "group", "dx": -111, "dy": 20},
     "data": {"name": "designs"},
     "transform": [{"lookup": "g", "from": {"data": {"name": "groups"}, "key": "g", "fields": ["f1", "f2"]}}],
     "mark": {"type": "point", "shape": "circle", "filled": false, "size": 28, "strokeWidth": 0.9, "opacity": 1},
     "encoding": {
      "x": {"field": "lift", "type": "quantitative", "scale": {"domain": [20, 200], "nice": false, "zero": false},
            "axis": {"values": [20, 40, 60, 80, 100, 120, 140, 160, 180, 200], "title": "Lifting capacity at maximum reach [N]", "titlePadding": 9}},
      "y": {"field": "reach", "type": "quantitative", "scale": {"domain": [1500, 2400], "nice": false, "zero": false},
            "axis": {"values": [1500, 1600, 1700, 1800, 1900, 2000, 2100, 2200, 2300, 2400], "format": "d", "title": "Reach [mm]", "titlePadding": 13}},
      "color": {"field": "f1", "type": "quantitative",
                "scale": {"domain": [2.09, 2.259, 2.428, 2.597, 2.766, 2.935, 3.104, 3.273, 3.442, 3.611, 3.78],
                          "range": ["#3b2a98", "#4233c0", "#4150e6", "#3a78f5", "#1e96e0", "#0ab4c8", "#45bf85", "#a5be50", "#eeb43a", "#f9cd34", "#f8f51c"]},
                "legend": {"values": [2.2, 2.4, 2.6, 2.8, 3.0, 3.2, 3.4, 3.6], "labelExpr": "slice(datum.label, 0, 1)", "gradientLength": 376, "gradientThickness": 24, "offset": 24}}
     }
    }
   ],
   "spacing": 133,
   "resolve": {"scale": {"color": "independent"}, "legend": {"color": "independent"}}
  },
  {
   "hconcat": [
    {
     "width": 416, "height": 376,
     "title": {"text": "(c)", "anchor": "start", "frame": "group", "dx": -110, "dy": 20},
     "data": {"name": "designs"},
     "transform": [{"lookup": "g", "from": {"data": {"name": "groups"}, "key": "g", "fields": ["f1", "f2"]}}],
     "mark": {"type": "point", "shape": "circle", "filled": false, "size": 28, "strokeWidth": 0.9, "opacity": 1},
     "encoding": {
      "x": {"field": "lift", "type": "quantitative", "scale": {"domain": [20, 200], "nice": false, "zero": false},
            "axis": {"values": [20, 40, 60, 80, 100, 120, 140, 160, 180, 200], "title": "Lifting capacity at maximum reach [N]", "titlePadding": 9}},
      "y": {"field": "reach", "type": "quantitative", "scale": {"domain": [1500, 2400], "nice": false, "zero": false},
            "axis": {"values": [1500, 1600, 1700, 1800, 1900, 2000, 2100, 2200, 2300, 2400], "format": "d", "title": "Reach [mm]", "titlePadding": 16}},
      "color": {"field": "f2", "type": "quantitative",
                "scale": {"domain": [1.73, 1.955, 2.18, 2.405, 2.63, 2.855, 3.08, 3.305, 3.53, 3.755, 3.98],
                          "range": ["#3b2a98", "#4233c0", "#4150e6", "#3a78f5", "#1e96e0", "#0ab4c8", "#45bf85", "#a5be50", "#eeb43a", "#f9cd34", "#f8f51c"]},
                "legend": {"values": [1.8, 2.0, 2.2, 2.4, 2.6, 2.8, 3.0, 3.2, 3.4, 3.6, 3.8], "labelExpr": "slice(datum.label, 0, 1)", "gradientLength": 376, "gradientThickness": 27, "offset": 25}}
     }
    },
    {
     "width": 1, "height": 412,
     "view": {"stroke": null},
     "data": {"values": [
       {"line": 1, "seg": "lead", "text": "Fig. 11."},
       {"line": 1, "seg": "rest", "text": "Dependence of fitness functions on the shoulder and"},
       {"line": 2, "seg": "tail", "text": "arm maximum torque"}
     ]},
     "encoding": {
      "y": {"field": "line", "type": "quantitative", "scale": {"domain": [-10.875, 2], "reverse": true, "nice": false, "zero": false}, "axis": null},
      "text": {"field": "text"}
     },
     "layer": [
      {"transform": [{"filter": "datum.seg === 'lead'"}], "mark": {"type": "text", "align": "left", "baseline": "alphabetic", "font": "Open Sans", "fontSize": 22.5, "fontWeight": "bold", "color": "#1a1a1a"}},
      {"transform": [{"filter": "datum.seg === 'rest'"}], "mark": {"type": "text", "align": "left", "baseline": "alphabetic", "font": "Open Sans", "fontSize": 24, "fontWeight": "normal", "color": "#1a1a1a", "dx": 85}},
      {"transform": [{"filter": "datum.seg === 'tail'"}], "mark": {"type": "text", "align": "left", "baseline": "alphabetic", "font": "Open Sans", "fontSize": 24, "fontWeight": "normal", "color": "#1a1a1a"}}
     ]
    }
   ],
   "spacing": 36,
   "resolve": {"scale": {"color": "independent"}, "legend": {"color": "independent"}}
  }
 ],
 "spacing": 31,
 "resolve": {"scale": {"color": "independent"}, "legend": {"color": "independent"}},
 "config": {
  "font": "Liberation Sans",
  "view": {"stroke": "#dcdcdc", "strokeWidth": 1},
  "axis": {"domainColor": "#262626", "tickColor": "#262626", "labelColor": "#262626", "titleColor": "#262626",
           "labelFontSize": 11, "titleFontSize": 11, "titleFontWeight": "normal", "gridColor": "#e6e6e6", "gridWidth": 1,
           "tickSize": -4, "labelPadding": 14, "domainWidth": 1},
  "legend": {"gradientStrokeColor": "#262626", "gradientStrokeWidth": 1, "labelFontSize": 7, "labelColor": "#777777", "labelOffset": 5, "padding": 0, "direction": "vertical", "title": null},
  "title": {"font": "DejaVu Serif", "fontSize": 19, "fontWeight": "normal", "color": "#1a1a1a", "offset": 0}
 }
}
